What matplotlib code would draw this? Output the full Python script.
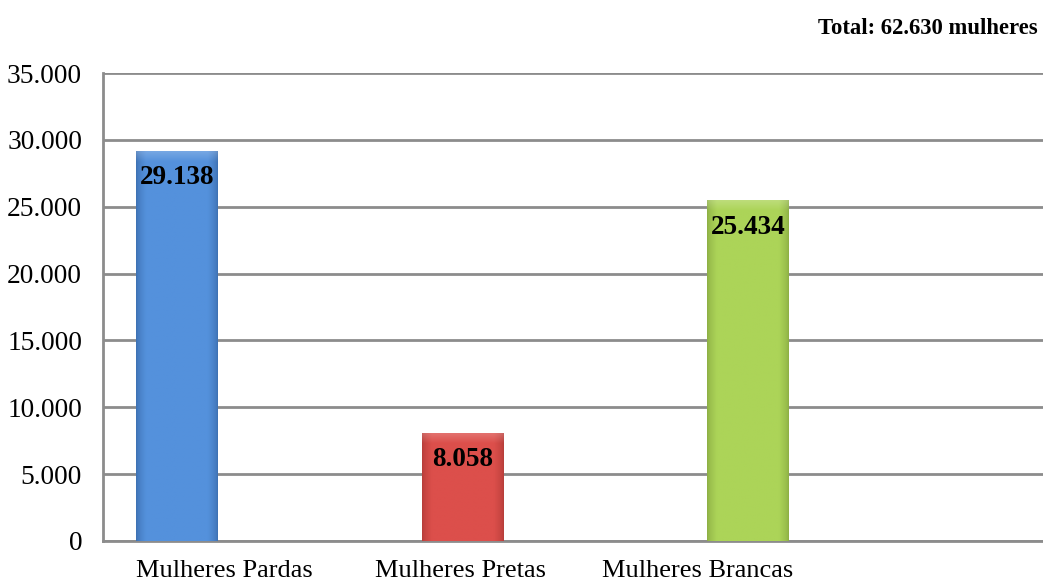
import numpy as np
import matplotlib
matplotlib.use("Agg")
import matplotlib.pyplot as plt
from matplotlib.colors import to_rgb

categories = ["Mulheres Pardas", "Mulheres Pretas", "Mulheres Brancas"]
values = [29138, 8058, 25434]
value_labels = ["29.138", "8.058", "25.434"]
yticks = [0, 5000, 10000, 15000, 20000, 25000, 30000, 35000]
ytick_labels = ["0", "5.000", "10.000", "15.000", "20.000", "25.000", "30.000", "35.000"]
title_text = "Total: 62.630 mulheres"

light_colors = ["#5491DC", "#DC4F4B", "#ACD458"]
dark_colors = ["#33629F", "#A63532", "#7E9E3C"]

plt.rcParams['font.family'] = ['Liberation Serif', 'DejaVu Serif']

fig = plt.figure(figsize=(10.43, 5.81), dpi=100)
ax = fig.add_axes([103/1043, 40/581, 1 - 103/1043, (541-73)/581])

width = 0.284
label_offsets = [0.165, -0.007, -0.175]

for i, (v, lc, dc) in enumerate(zip(values, light_colors, dark_colors)):
    lc = np.array(to_rgb(lc)); dc = np.array(to_rgb(dc))
    nx, ny = 80, 300
    xs = np.linspace(0, 1, nx)
    edge = np.minimum(xs, 1 - xs)
    prof = np.clip(edge / 0.12, 0, 1) ** 0.7
    prof = 0.35 + 0.65 * prof
    img = np.zeros((ny, nx, 3))
    for c in range(3):
        img[:, :, c] = dc[c] + (lc[c] - dc[c]) * prof[None, :]
    ys = np.linspace(0, 1, ny)
    top_px = 10 / (v / 35000 * 468)
    hl = np.clip(1 - ys / max(top_px, 1e-3), 0, 1)[:, None, None]
    img = img * (1 - 0.2 * hl) + 0.2 * hl * np.ones(3)
    img = np.clip(img, 0, 1)
    x0 = i - width / 2
    ax.imshow(img, extent=[x0, x0 + width, 0, v], aspect='auto', zorder=3,
              interpolation='bilinear')
    ax.annotate(value_labels[i], xy=(i, v), xytext=(0, -10), textcoords='offset points',
                ha='center', va='top', fontsize=19.5, fontweight='bold', color='black', zorder=4)

ax.set_xlim(-0.259, 3.033)
ax.set_ylim(0, 35000)
ax.set_yticks(yticks)
ax.set_yticklabels(ytick_labels, fontsize=19.7)
ax.set_xticks([])
for i, cat in enumerate(categories):
    ax.annotate(cat, xy=(i + label_offsets[i], 0), xytext=(0, -14), textcoords='offset points',
                ha='center', va='top', fontsize=19, annotation_clip=False)
ax.tick_params(axis='y', length=0, pad=15)
ax.grid(axis='y', color='#8C8C8C', linewidth=2, zorder=1)
ax.set_axisbelow(True)
for s in ['top', 'right']:
    ax.spines[s].set_visible(False)
ax.spines['left'].set_color('#8C8C8C')
ax.spines['bottom'].set_color('#8C8C8C')
ax.spines['left'].set_linewidth(2)
ax.spines['bottom'].set_linewidth(2)

fig.text(1038/1043, 1 - 28.5/581, title_text, ha='right', va='center',
         fontsize=16.3, fontweight='bold')

fig.savefig("out.png", dpi=100)
